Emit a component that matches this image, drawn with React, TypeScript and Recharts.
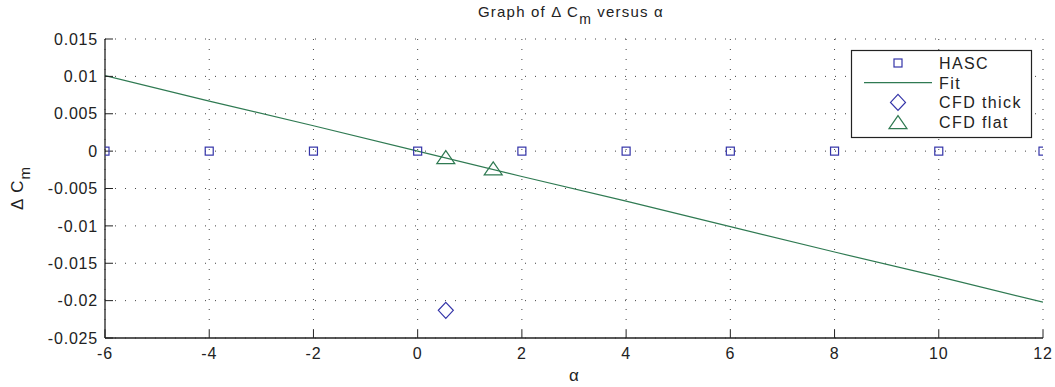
import React from 'react';
import { ComposedChart, XAxis, YAxis, CartesianGrid, Line, Scatter } from 'recharts';

const alphaTicks = [-6, -4, -2, 0, 2, 4, 6, 8, 10, 12];
const cmTicks = [-0.025, -0.02, -0.015, -0.01, -0.005, 0, 0.005, 0.01, 0.015];

const hascAlpha = [-6, -4, -2, 0, 2, 4, 6, 8, 10, 12];
const hascCm = [0, 0, 0, 0, 0, 0, 0, 0, 0, 0];

const fitAlpha = [-6, -4, -2, 0, 2, 4, 6, 8, 10, 12];
const fitCm = [0.0101, 0.0067, 0.0034, 0.0, -0.0034, -0.0067, -0.0101, -0.0135, -0.0168, -0.0202];

const cfdThickAlpha = [0.54];
const cfdThickCm = [-0.0213];

const cfdFlatAlpha = [0.54, 1.45];
const cfdFlatCm = [-0.0008, -0.0023];

const legendNames = ['HASC', 'Fit', 'CFD thick', 'CFD flat'];

const BLUE = '#3434a8';
const GREEN = '#2f7a52';
const FONT = '"Liberation Sans", Arial, Helvetica, sans-serif';

const zip = (xs: number[], ys: number[]) => xs.map((x, i) => ({ x, y: ys[i] }));

const hascData = zip(hascAlpha, hascCm);
const fitData = zip(fitAlpha, fitCm);
const thickData = zip(cfdThickAlpha, cfdThickCm);
const flatData = zip(cfdFlatAlpha, cfdFlatCm);

const Square = (p: any) => (
  <rect x={p.cx - 4} y={p.cy - 4} width={8} height={8} fill="none" stroke={BLUE} strokeWidth={1.2} />
);
const Diamond = (p: any) => (
  <polygon
    points={`${p.cx},${p.cy - 8} ${p.cx + 7.5},${p.cy} ${p.cx},${p.cy + 8} ${p.cx - 7.5},${p.cy}`}
    fill="none"
    stroke={BLUE}
    strokeWidth={1.2}
  />
);
const Triangle = (p: any) => (
  <polygon
    points={`${p.cx},${p.cy - 6.5} ${p.cx + 9},${p.cy + 6.5} ${p.cx - 9},${p.cy + 6.5}`}
    fill="none"
    stroke={GREEN}
    strokeWidth={1.2}
  />
);

const LegendBox = () => (
  <g transform="translate(851,50)" style={{ fontFamily: FONT }}>
    <rect x={0.5} y={0.5} width={180} height={87} fill="#fff" stroke="#222" strokeWidth={1.2} />
    {legendNames.map((n, i) => {
      const cy = 13 + i * 19.7;
      const cx = 47;
      let m: any = null;
      if (i === 0) m = <Square cx={cx} cy={cy} />;
      if (i === 1) m = <line x1={13} x2={81} y1={cy} y2={cy} stroke={GREEN} strokeWidth={1.2} />;
      if (i === 2) m = <Diamond cx={cx} cy={cy} />;
      if (i === 3) m = <Triangle cx={cx} cy={cy} />;
      return (
        <g key={n}>
          {m}
          <text x={88} y={cy + 6} fontSize={16} letterSpacing={1.4} fill="#222" fontFamily={FONT}>
            {n}
          </text>
        </g>
      );
    })}
  </g>
);

const tickStyle = { fontSize: 16, fill: '#222', fontFamily: FONT, letterSpacing: 0.8 };

export default function App() {
  return (
    <div style={{ position: 'absolute', left: 0, top: 0, width: 1055, height: 387, background: '#fff' }}>
      <ComposedChart
        width={1055}
        height={387}
        margin={{ top: 39, right: 12, bottom: 0, left: 0 }}
        style={{ fontFamily: FONT }}
      >
        <CartesianGrid stroke="#444" strokeDasharray="1 9" strokeWidth={1} />
        <XAxis
          dataKey="x"
          type="number"
          domain={[-6, 12]}
          ticks={alphaTicks}
          allowDataOverflow
          height={49}
          stroke="#222"
          tickSize={-8}
          tickMargin={18}
          tick={tickStyle}
          tickLine={{ stroke: '#222' }}
          axisLine={{ stroke: '#222', strokeWidth: 1.3 }}
        />
        <XAxis
          xAxisId="top"
          orientation="top"
          dataKey="x"
          type="number"
          domain={[-6, 12]}
          ticks={alphaTicks}
          allowDataOverflow
          height={0}
          tickSize={-8}
          tick={false}
          tickLine={{ stroke: '#222' }}
          axisLine={{ stroke: '#222', strokeWidth: 1.3 }}
        />
        <YAxis
          type="number"
          domain={[-0.025, 0.015]}
          ticks={cmTicks}
          allowDataOverflow
          width={105}
          tickSize={-8}
          tickMargin={15}
          tick={tickStyle}
          tickLine={{ stroke: '#222' }}
          axisLine={{ stroke: '#222', strokeWidth: 1.3 }}
        />
        <YAxis
          yAxisId="right"
          orientation="right"
          type="number"
          domain={[-0.025, 0.015]}
          ticks={cmTicks}
          allowDataOverflow
          width={0}
          tickSize={-8}
          tick={false}
          tickLine={{ stroke: '#222' }}
          axisLine={{ stroke: '#222', strokeWidth: 1.3 }}
        />
        <Line
          data={fitData}
          dataKey="y"
          type="linear"
          stroke={GREEN}
          strokeWidth={1.2}
          dot={false}
          activeDot={false}
          isAnimationActive={false}
          legendType="none"
        />
        <Scatter data={hascData} dataKey="y" shape={Square} isAnimationActive={false} />
        <Scatter data={thickData} dataKey="y" shape={Diamond} isAnimationActive={false} />
        <Scatter data={flatData} dataKey="y" shape={Triangle} isAnimationActive={false} />
        <LegendBox />
        <text x={571} y={17} textAnchor="middle" fontSize={15} letterSpacing={1.2} fill="#222" fontFamily={FONT}>
          <tspan>Graph of Δ C</tspan>
          <tspan fontSize={14} dy={7}>m</tspan>
          <tspan dy={-7}>{'  versus α'}</tspan>
        </text>
        <text x={574} y={381} textAnchor="middle" fontSize={17} fill="#222" fontFamily={FONT}>
          α
        </text>
        <text
          x={0}
          y={0}
          transform="translate(23,188) rotate(-90)"
          textAnchor="middle"
          fontSize={17}
          letterSpacing={1}
          fill="#222"
          fontFamily={FONT}
        >
          <tspan>Δ C</tspan>
          <tspan fontSize={15} dy={7}>m</tspan>
        </text>
      </ComposedChart>
    </div>
  );
}
